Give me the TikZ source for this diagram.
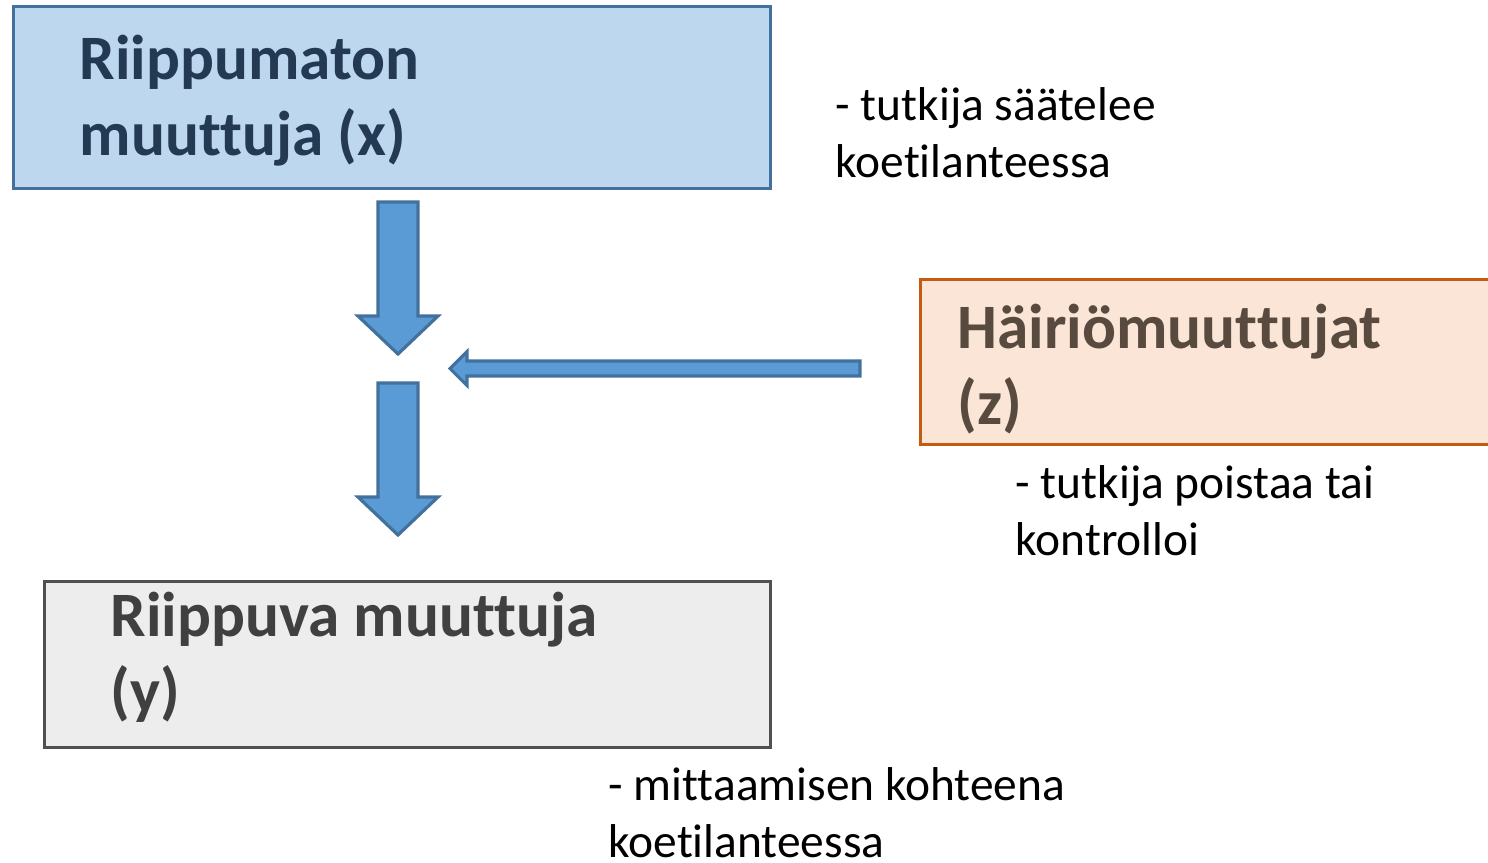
\documentclass[tikz,border=0pt]{standalone}
\usepackage{fontspec}
\setmainfont{Carlito}[Ligatures={NoCommon}]
\usepackage{tikz}
\usetikzlibrary{positioning}

\definecolor{xfill}{HTML}{BDD7EE}
\definecolor{xline}{HTML}{41719C}
\definecolor{xtext}{HTML}{243A54}
\definecolor{zfill}{HTML}{FBE5D6}
\definecolor{zline}{HTML}{C55A11}
\definecolor{ztext}{HTML}{594A40}
\definecolor{yfill}{HTML}{EDEDED}
\definecolor{yline}{HTML}{505050}
\definecolor{ytext}{HTML}{404040}
\definecolor{arrowfill}{HTML}{5B9BD5}

\begin{document}
\begin{tikzpicture}[varbox/.style={rectangle, anchor=north west, line width=0.9pt},
                    varlabel/.style={anchor=base west, align=left, inner sep=0pt,
                                     font=\bfseries\fontsize{18}{21.6}\selectfont},
                    note/.style={anchor=base west, align=left, inner sep=0pt,
                                 font=\fontsize{13.5}{16.2}\selectfont},
                    blockarrow/.style={draw=xline, fill=arrowfill, line width=0.9pt, line join=miter}]
            \useasboundingbox (0,0) rectangle (14.88,-8.62);

            % Independent variable
            \node[varbox, draw=xline, fill=xfill, minimum width=7.57cm, minimum height=1.82cm] (indep) at (0.12,-0.05) {};
            \node[varlabel, text=xtext, xshift=0.67cm, yshift=-1.50cm] (indeptext) at (indep.north west) {Riippumaton\\muuttuja (x)};
            \node[note] (indepnote) at (8.35,-1.77) {- tutkija säätelee\\koetilanteessa};

            % Disturbing variables
            \node[varbox, draw=zline, fill=zfill, minimum width=6.2cm, minimum height=1.65cm] (disturb) at (9.19,-2.78) {};
            \node[varlabel, text=ztext, xshift=0.38cm, yshift=-1.46cm] (disturbtext) at (disturb.north west) {Häiriömuuttujat\\(z)};
            \node[note] (disturbnote) at (10.15,-5.55) {- tutkija poistaa tai\\kontrolloi};

            % Dependent variable
            \node[varbox, draw=yline, fill=yfill, minimum width=7.26cm, minimum height=1.66cm] (dep) at (0.43,-5.80) {};
            \node[varlabel, text=ytext, xshift=0.67cm, yshift=-1.32cm] (deptext) at (dep.north west) {Riippuva muuttuja\\(y)};
            \node[note] (depnote) at (6.08,-8.57) {- mittaamisen kohteena\\koetilanteessa};

            % Arrows
            \coordinate (downone) at (3.98,-2.02);
            \coordinate (downtwo) at (3.98,-3.83);
            \coordinate (sidein) at (8.60,-3.685);
            \draw[blockarrow] (downone) ++(-0.2,0) -- ++(0.4,0) -- ++(0,-1.14) -- ++(0.2,0)
                -- ++(-0.4,-0.38) -- ++(-0.4,0.38) -- ++(0.2,0) -- cycle;
            \draw[blockarrow] (downtwo) ++(-0.2,0) -- ++(0.4,0) -- ++(0,-1.14) -- ++(0.2,0)
                -- ++(-0.4,-0.38) -- ++(-0.4,0.38) -- ++(0.2,0) -- cycle;
            \draw[blockarrow] (sidein) ++(0,0.075) -- ++(0,-0.15) -- ++(-3.93,0) -- ++(0,-0.095)
                -- ++(-0.17,0.17) -- ++(0.17,0.17) -- ++(0,-0.095) -- cycle;
        \end{tikzpicture}
\end{document}
